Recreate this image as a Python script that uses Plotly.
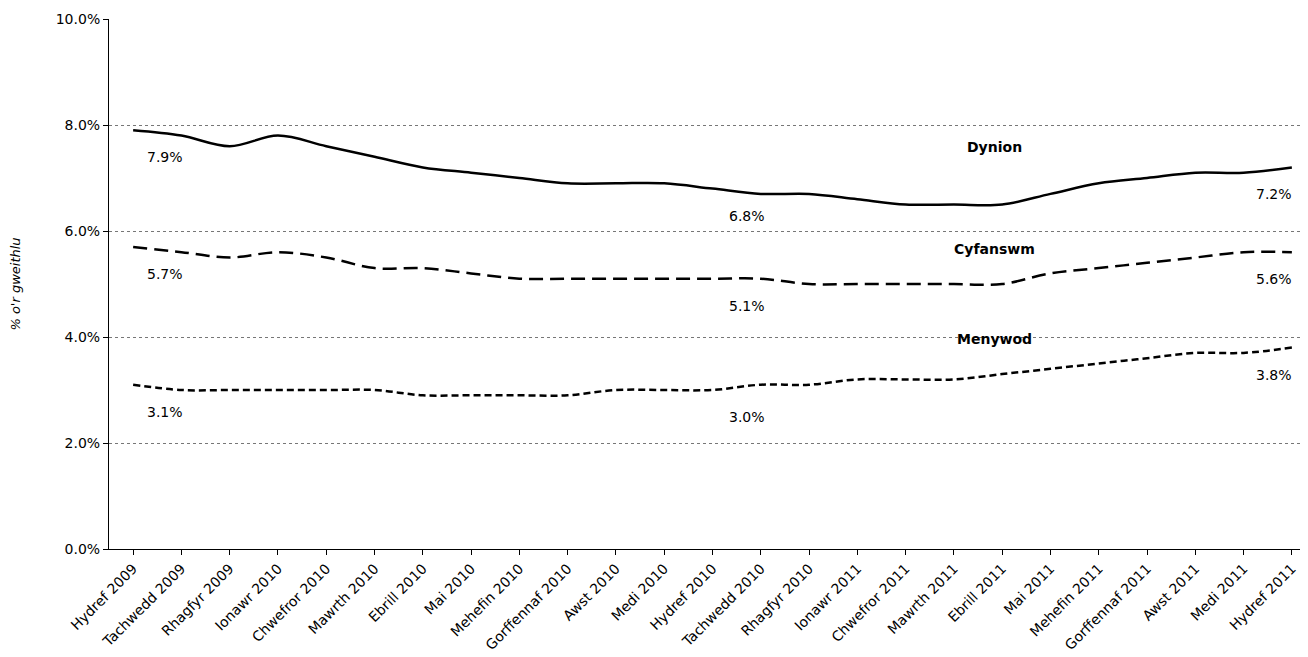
import plotly.graph_objects as go

months = ["Hydref 2009", "Tachwedd 2009", "Rhagfyr 2009", "Ionawr 2010", "Chwefror 2010",
          "Mawrth 2010", "Ebrill 2010", "Mai 2010", "Mehefin 2010", "Gorffennaf 2010",
          "Awst 2010", "Medi 2010", "Hydref 2010", "Tachwedd 2010", "Rhagfyr 2010",
          "Ionawr 2011", "Chwefror 2011", "Mawrth 2011", "Ebrill 2011", "Mai 2011",
          "Mehefin 2011", "Gorffennaf 2011", "Awst 2011", "Medi 2011", "Hydref 2011"]

dynion = [7.9, 7.8, 7.6, 7.8, 7.6, 7.4, 7.2, 7.1, 7.0, 6.9, 6.9, 6.9, 6.8, 6.7, 6.7,
          6.6, 6.5, 6.5, 6.5, 6.7, 6.9, 7.0, 7.1, 7.1, 7.2]
cyfanswm = [5.7, 5.6, 5.5, 5.6, 5.5, 5.3, 5.3, 5.2, 5.1, 5.1, 5.1, 5.1, 5.1, 5.1, 5.0,
            5.0, 5.0, 5.0, 5.0, 5.2, 5.3, 5.4, 5.5, 5.6, 5.6]
menywod = [3.1, 3.0, 3.0, 3.0, 3.0, 3.0, 2.9, 2.9, 2.9, 2.9, 3.0, 3.0, 3.0, 3.1, 3.1,
           3.2, 3.2, 3.2, 3.3, 3.4, 3.5, 3.6, 3.7, 3.7, 3.8]

series = [("Dynion", dynion, "solid", 58), ("Cyfanswm", cyfanswm, "14px,7px", 35),
          ("Menywod", menywod, "7px,4px", 35)]
label_idx = [0, 12, 24]
name_idx = 18

fig = go.Figure()
for name, vals, dash, nshift in series:
    fig.add_trace(go.Scatter(x=months, y=vals, mode="lines", name=name,
                             line=dict(color="black", width=2.5, dash=dash, shape="spline")))
    for i in label_idx:
        fig.add_annotation(x=months[i], y=vals[i], text=f"{vals[i]:.1f}%", showarrow=False,
                           yshift=-27, xshift={0: 32, 12: 34, 24: -18}[i],
                           font=dict(size=14, color="black"))
    fig.add_annotation(x=months[name_idx], y=vals[name_idx], text=f"<b>{name}</b>",
                       showarrow=False, yshift=nshift, xshift=-8, font=dict(size=14, color="black"))

fig.update_layout(
    width=1308, height=657, showlegend=False,
    plot_bgcolor="white", paper_bgcolor="white",
    font=dict(family="DejaVu Sans", size=13, color="black"),
    margin=dict(l=101, r=0, t=11, b=116),
)
fig.update_xaxes(range=[-0.5, 24.5], tickangle=-45, showline=True, linecolor="black",
                 ticks="outside", tickcolor="black", showgrid=False, automargin=False,
                 tickfont=dict(size=14))
fig.update_yaxes(range=[0, 10], dtick=2, ticksuffix=".0%", tickformat="d", showline=True,
                 linecolor="black", ticks="outside", tickcolor="black", automargin=False,
                 gridcolor="#777", griddash="dot", gridwidth=1, tickfont=dict(size=14),
                 title=dict(text="<i>% o'r gweithlu</i>", font=dict(size=13), standoff=40))

fig.write_html("out.html")
